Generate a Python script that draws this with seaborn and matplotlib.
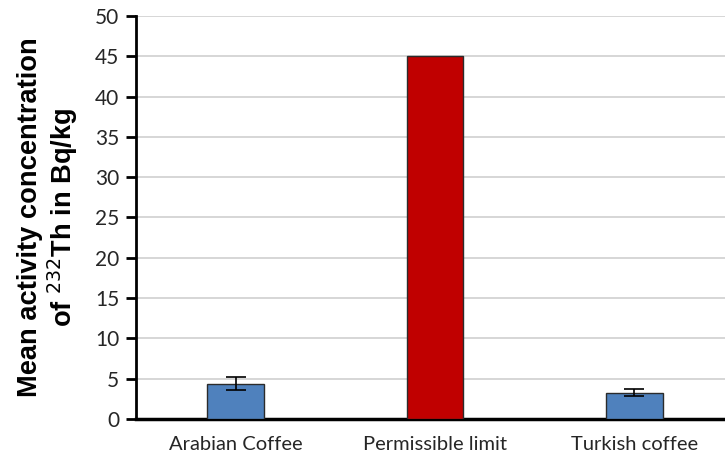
import matplotlib
matplotlib.use("Agg")
import matplotlib.pyplot as plt
import seaborn as sns
import pandas as pd

categories = ["Arabian Coffee", "Permissible limit", "Turkish coffee"]
means = [4.4, 45.0, 3.25]
errors = [0.85, 0.0, 0.45]
colors = ["#4f81bd", "#c00000", "#4f81bd"]
yticks = [0, 5, 10, 15, 20, 25, 30, 35, 40, 45, 50]

df = pd.DataFrame({"category": categories, "mean": means})

sns.set_theme(style="white")
plt.rcParams["font.family"] = ["Lato", "DejaVu Sans"]

fig = plt.figure(figsize=(7.25, 4.65), dpi=100)
# the category axis runs slightly past the right edge of the figure
ax = fig.add_axes([0.1876, 0.099, 0.8248, 0.8666])

sns.barplot(data=df, x="category", y="mean", hue="category",
            palette=dict(zip(categories, colors)), width=0.285, saturation=1,
            edgecolor="#2b2b2b", linewidth=1.0, legend=False, ax=ax, zorder=3)

for i, (m, e) in enumerate(zip(means, errors)):
    if e > 0:
        ax.errorbar(i, m, yerr=e, fmt="none", ecolor="black",
                    elinewidth=1.2, capsize=7, capthick=1.2, zorder=4)

ax.set_xlim(-0.5, 2.5)
ax.set_ylim(0, 50)
ax.set_yticks(yticks)
ax.yaxis.grid(True, color="#d0d0d0", linewidth=1.2, zorder=0)
ax.set_axisbelow(True)

for side in ["top", "right"]:
    ax.spines[side].set_visible(False)
ax.spines["left"].set_color("black")
ax.spines["left"].set_linewidth(2)
ax.spines["bottom"].set_color("black")
ax.spines["bottom"].set_linewidth(2.5)

ax.tick_params(axis="y", which="major", direction="out", length=7, width=2,
               color="black", labelsize=15, labelcolor="#262626", pad=5, left=True)
ax.tick_params(axis="x", length=0, labelsize=14.5, labelcolor="#262626", pad=12)

ax.set_xlabel("")
ax.set_ylabel("Mean activity concentration\nof $^{232}$Th in Bq/kg",
              fontsize=19.6, fontweight="bold", family=["Liberation Sans", "DejaVu Sans"],
              color="black", labelpad=11, linespacing=1.1)

fig.savefig("out.png", dpi=100)
